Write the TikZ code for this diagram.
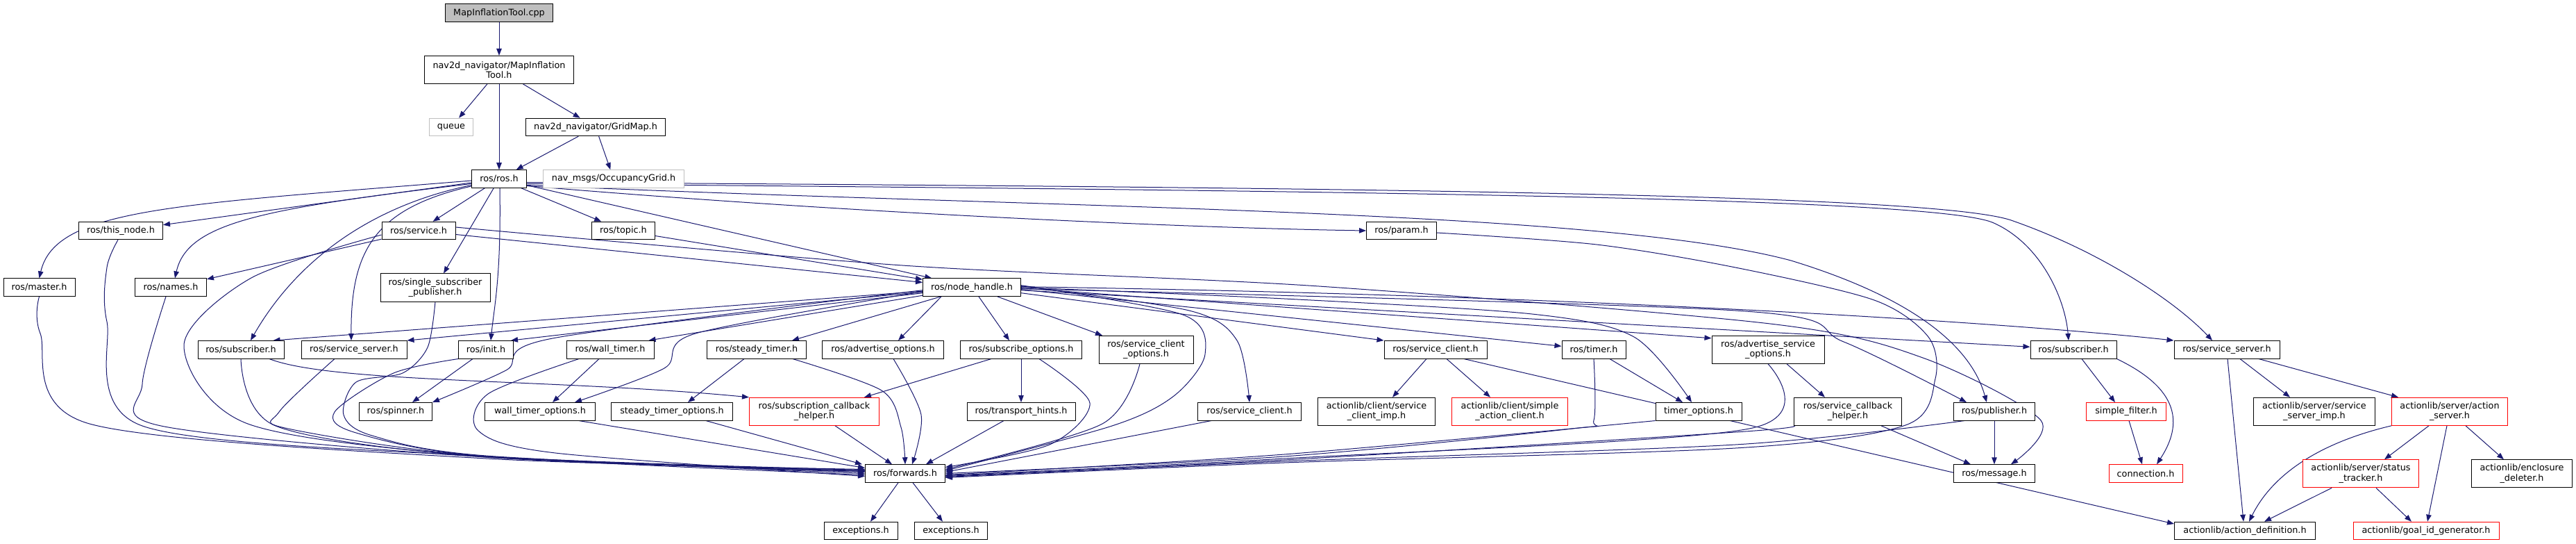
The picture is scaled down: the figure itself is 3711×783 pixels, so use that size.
\documentclass[tikz,border=0pt]{standalone}
\usepackage{fontspec}
\newfontfamily\dejavu{DejaVu Sans}
\usetikzlibrary{arrows.meta}
\newcommand\dxf{\dejavu\fontsize{12.8}{14.5}\selectfont}
\definecolor{navy}{HTML}{191970}
\definecolor{lgray}{HTML}{BFBFBF}
\pgfdeclarelayer{bg}
\pgfsetlayers{bg,main}
\tikzset{
  nbox/.style={draw, line width=1pt, fill=white, inner sep=0pt, minimum height=25.5pt, align=center, font=\dxf},
  box/.style={nbox, draw=black},
  redbox/.style={nbox, draw=red},
  greybox/.style={nbox, draw=lgray},
  rootbox/.style={nbox, draw=black, fill=lgray},
  tall/.style={minimum height=40pt},
  dep/.style={draw=navy, line width=1pt, -{Triangle[length=10pt,width=7.5pt]}},
}
\begin{document}
\begin{tikzpicture}[x=1pt,y=-1pt]
\useasboundingbox (0,0) rectangle (3711,783);
% ---------- nodes ----------
\node[rootbox, minimum width=155pt] (root) at (719,18.7) {MapInflationTool.cpp};
\node[box, tall, minimum width=215pt] (mit) at (719,100.5) {nav2d\_navigator/MapInflation\\Tool.h};
\node[greybox, minimum width=63pt] (queue) at (650,183) {queue};
\node[box, minimum width=201pt] (gridmap) at (858,183) {nav2d\_navigator/GridMap.h};
\node[box, minimum width=79pt] (rosh) at (719,257.5) {ros/ros.h};
\node[greybox, minimum width=203pt] (occ) at (884,257.5) {nav\_msgs/OccupancyGrid.h};
\node[box, minimum width=121pt] (thisnode) at (174,332) {ros/this\_node.h};
\node[box, minimum width=106pt] (service) at (603,332) {ros/service.h};
\node[box, minimum width=91pt] (topic) at (898,332) {ros/topic.h};
\node[box, minimum width=101pt] (param) at (2019,332) {ros/param.h};
\node[box, minimum width=103pt] (master) at (56.5,413.7) {ros/master.h};
\node[box, minimum width=103pt] (names) at (246,413.7) {ros/names.h};
\node[box, tall, minimum width=158pt] (ssp) at (627,414) {ros/single\_subscriber\\\_publisher.h};
\node[box, minimum width=141pt] (nh) at (1400,413.7) {ros/node\_handle.h};
\node[box, minimum width=124pt] (subL) at (347,503.3) {ros/subscriber.h};
\node[box, minimum width=152pt] (ssL) at (510,503.3) {ros/service\_server.h};
\node[box, minimum width=79pt] (init) at (700,503.3) {ros/init.h};
\node[box, minimum width=126pt] (walltimer) at (879,503.3) {ros/wall\_timer.h};
\node[box, minimum width=143pt] (steadytimer) at (1090,503.3) {ros/steady\_timer.h};
\node[box, minimum width=175pt] (advopt) at (1272,503.3) {ros/advertise\_options.h};
\node[box, minimum width=175pt] (subopt) at (1471,503.3) {ros/subscribe\_options.h};
\node[box, tall, minimum width=136pt] (scopt) at (1651,503.3) {ros/service\_client\\\_options.h};
\node[box, minimum width=148pt] (scU) at (2068,503.3) {ros/service\_client.h};
\node[box, minimum width=92pt] (timer) at (2296,503.3) {ros/timer.h};
\node[box, tall, minimum width=162pt] (asopt) at (2547,503.3) {ros/advertise\_service\\\_options.h};
\node[box, minimum width=124pt] (subR) at (2987,503.3) {ros/subscriber.h};
\node[box, minimum width=152pt] (ssR) at (3208,503.3) {ros/service\_server.h};
\node[box, minimum width=105pt] (spinner) at (570,592.3) {ros/spinner.h};
\node[box, minimum width=159pt] (wto) at (778,592.3) {wall\_timer\_options.h};
\node[box, minimum width=175pt] (sto) at (968,592.3) {steady\_timer\_options.h};
\node[redbox, tall, minimum width=187pt] (sch) at (1173,592.3) {ros/subscription\_callback\\\_helper.h};
\node[box, minimum width=156pt] (th) at (1471,592.3) {ros/transport\_hints.h};
\node[box, minimum width=149pt] (scL) at (1800,592.3) {ros/service\_client.h};
\node[box, tall, minimum width=169pt] (scimp) at (1983,592.3) {actionlib/client/service\\\_client\_imp.h};
\node[redbox, tall, minimum width=167pt] (sac) at (2175,592.3) {actionlib/client/simple\\\_action\_client.h};
\node[box, minimum width=124pt] (tops) at (2447,592.3) {timer\_options.h};
\node[box, tall, minimum width=155pt] (sch2) at (2662,592.3) {ros/service\_callback\\\_helper.h};
\node[box, minimum width=117pt] (pub) at (2873,592.3) {ros/publisher.h};
\node[redbox, minimum width=115pt] (sf) at (3063,592.3) {simple\_filter.h};
\node[box, tall, minimum width=175pt] (ssimp) at (3334,592.3) {actionlib/server/service\\\_server\_imp.h};
\node[redbox, tall, minimum width=167pt] (as) at (3529,592.3) {actionlib/server/action\\\_server.h};
\node[box, minimum width=115pt] (fwd) at (1304,681.5) {ros/forwards.h};
\node[box, minimum width=117pt] (msg) at (2873,681.5) {ros/message.h};
\node[redbox, minimum width=106pt] (conn) at (3091,681.5) {connection.h};
\node[redbox, tall, minimum width=167pt] (st) at (3401,681.8) {actionlib/server/status\\\_tracker.h};
\node[box, tall, minimum width=145pt] (ed) at (3633,681.8) {actionlib/enclosure\\\_deleter.h};
\node[box, minimum width=106pt] (exL) at (1240,764) {exceptions.h};
\node[box, minimum width=105pt] (exR) at (1370,764) {exceptions.h};
\node[box, minimum width=203pt] (ad) at (3234,764) {actionlib/action\_definition.h};
\node[redbox, minimum width=210pt] (gid) at (3495,764) {actionlib/goal\_id\_generator.h};
% ---------- edges ----------
\begin{pgfonlayer}{bg}
\draw[dep] (root) -- (mit);
\draw[dep] (mit) -- (queue);
\draw[dep] (mit) -- (rosh);
\draw[dep] (mit) -- (gridmap);
\draw[dep] (gridmap) -- (rosh);
\draw[dep] (gridmap) -- (occ);
% ros.h
\draw[dep] (rosh) -- (service);
\draw[dep] (rosh) -- (topic);
\draw[dep] (rosh) -- (ssp);
\draw[dep] (rosh) -- (nh);
\draw[dep] (rosh) -- (thisnode);
\draw[dep] ([yshift=-2.5pt]rosh.west) .. controls (250,295) and (80,300) .. (master.north);
\draw[dep] ([yshift=-7pt]rosh.west) .. controls (380,300) and (270,320) .. ([xshift=6pt]names.north);
\draw[dep] ([yshift=-9pt]rosh.west) .. controls (540,295) and (430,370) .. ([xshift=14pt]subL.north);
\draw[dep] ([yshift=-10.5pt]rosh.west) .. controls (540,300) and (505,360) .. ([xshift=-4pt]ssL.north);
\draw[dep] ([xshift=1pt]rosh.south) .. controls (722,400) and (712,440) .. ([xshift=7pt]init.north);
\draw[dep] ([yshift=-10pt]rosh.east) .. controls (1200,305) and (1700,328) .. (param.west);
\draw[dep] ([yshift=-9pt]rosh.east) .. controls (1500,300) and (2300,300) .. (2580,375) .. controls (2760,430) and (2840,500) .. ([xshift=-11pt]pub.north);
\draw[dep] ([yshift=-7pt]rosh.east) .. controls (2000,275) and (2780,285) .. (2870,320) .. controls (2940,350) and (2975,430) .. ([xshift=-7pt]subR.north);
\draw[dep] ([yshift=-5pt]rosh.east) .. controls (2000,270) and (2800,280) .. (2900,318) .. controls (3020,360) and (3130,430) .. ([xshift=-21pt]ssR.north);
% service / topic
\draw[dep] (service) -- (names);
\draw[dep] (service) -- (nh);
\draw[dep] (topic) -- (nh);
\draw[dep] plot[smooth] coordinates {([yshift=5pt]service.east) (1300,382) (1900,412) (2550,466) (2770,515) (2940,605) ([xshift=24pt]msg.north)};
% node_handle
\draw[dep] (nh) -- ([xshift=-16pt]subL.north east);
\draw[dep] (nh) -- (ssL.north east);
\draw[dep] (nh) -- ([xshift=-4pt]init.north east);
\draw[dep] (nh) -- ([xshift=-8pt]walltimer.north east);
\draw[dep] (nh) -- ([xshift=-21pt]steadytimer.north east);
\draw[dep] ([xshift=-44pt]nh.south) -- ([xshift=22pt]advopt.north);
\draw[dep] ([xshift=10pt]nh.south) -- ([xshift=-17pt]subopt.north);
\draw[dep] ([xshift=37pt]nh.south) -- ([xshift=-63pt]scopt.north);
\draw[dep] ([yshift=-8pt]nh.east) -- (scU.north west);
\draw[dep] ([yshift=-3pt]nh.east) -- ([yshift=5pt]timer.west);
\draw[dep] ([yshift=-1pt]nh.east) -- ([yshift=-4pt]asopt.north west);
\draw[dep] ([yshift=-4pt]nh.east) -- ([yshift=4pt]subR.west);
\draw[dep] ([yshift=1pt]nh.east) .. controls (2300,425) and (2900,465) .. (ssR.north west);
\draw[dep] plot[smooth] coordinates {([yshift=-4pt]nh.west) (796,487) (729,533) (spinner.north east)};
\draw[dep] plot[smooth] coordinates {([yshift=-6pt]nh.west) (1002,480) (957,530) ([xshift=50pt]wto.north)};
\draw[dep] plot[smooth] coordinates {([yshift=3pt]nh.east) (1704,453) (1736,510) (1691,570) (1602,613) ([yshift=4pt]fwd.east)};
\draw[dep] plot[smooth] coordinates {([yshift=2pt]nh.east) (1713,447) (1782,490) (scL.north)};
\draw[dep] plot[smooth] coordinates {([yshift=0pt]nh.east) (1850,430) (2207,452) (2354,485) ([xshift=-10pt]tops.north)};
\draw[dep] plot[smooth] coordinates {([yshift=-2pt]nh.east) (2500,447) (2656,492) ([xshift=-40pt]pub.north)};
% into forwards from left
\draw[dep] plot[smooth] coordinates {(master.south) (58,480) (129,610) (700,660) ([yshift=6pt]fwd.west)};
\draw[dep] plot[smooth] coordinates {([xshift=-4pt]thisnode.south) (154,385) (154,463) (205,613) (700,657) ([yshift=5pt]fwd.west)};
\draw[dep] plot[smooth] coordinates {([xshift=-7pt]names.south) (205,553) (232,613) (700,658) ([yshift=4pt]fwd.west)};
\draw[dep] plot[smooth] coordinates {([yshift=-6pt]service.west) (362,400) (265,497) (357,610) (700,657) ([yshift=4pt]fwd.west)};
\draw[dep] plot[smooth] coordinates {(subL.south) (397,613) (700,658) ([yshift=3pt]fwd.west)};
\draw[dep] plot[smooth] coordinates {([xshift=-28pt]ssL.south) (402,593) (415,617) (700,657) ([yshift=2pt]fwd.west)};
\draw[dep] plot[smooth] coordinates {(ssp.south) (616,500) (580,537) (513,550) (495,597) (536,627) (700,656) (fwd.west)};
\draw[dep] plot[smooth] coordinates {(init.south west) (567,537) (482,593) (513,623) (700,657) ([yshift=-2pt]fwd.west)};
\draw[dep] plot[smooth] coordinates {([xshift=-45pt]walltimer.south) (703,567) (689,620) (800,652) ([yshift=-4pt]fwd.west)};
\draw[dep] ([xshift=56pt]wto.south) -- ([yshift=8pt]fwd.west);
\draw[dep] ([xshift=49pt]sto.south) -- ([xshift=-4pt]fwd.north west);
\draw[dep] ([xshift=30pt]sch.south) -- ([xshift=-19pt]fwd.north);
\draw[dep] plot[smooth] coordinates {([xshift=52pt]steadytimer.south) (1270,562) (1298,615) (fwd.north)};
\draw[dep] plot[smooth] coordinates {([xshift=15pt]advopt.south) (1327,597) ([xshift=10pt]fwd.north)};
\draw[dep] ([xshift=-25pt]th.south) -- ([xshift=30pt]fwd.north);
% into forwards from right
\draw[dep] plot[smooth] coordinates {([xshift=26pt]subopt.south) (1570,580) (1512,640) ([yshift=9pt]fwd.east)};
\draw[dep] plot[smooth] coordinates {([xshift=-9pt]scopt.south) (1588,610) ([yshift=6pt]fwd.east)};
\draw[dep] ([xshift=-55pt]scL.south) -- ([yshift=2pt]fwd.east);
\draw[dep] plot[smooth] coordinates {(timer.south) (2296,605) (2265,617) (1850,657) (fwd.east)};
\draw[dep] plot[smooth] coordinates {(tops.south west) (1850,654) ([yshift=-2pt]fwd.east)};
\draw[dep] plot[smooth] coordinates {(asopt.south) (2520,617) (1850,660) ([yshift=-3pt]fwd.east)};
\draw[dep] plot[smooth] coordinates {(sch2.south west) (2500,622) (1850,662) ([yshift=-4pt]fwd.east)};
\draw[dep] plot[smooth] coordinates {([xshift=-43pt]pub.south) (2500,640) (1850,664) ([yshift=-5pt]fwd.east)};
\draw[dep] plot[smooth] coordinates {([yshift=-3pt]param.east) (2300,352) (2500,385) (2700,432) (2778,485) (2788,545) (2745,612) (2500,645) (1850,666) ([yshift=-6pt]fwd.east)};
% forwards
\draw[dep] ([xshift=-10pt]fwd.south) -- ([xshift=14pt]exL.north);
\draw[dep] ([xshift=11pt]fwd.south) -- ([xshift=-12pt]exR.north);
% other
\draw[dep] ([xshift=41pt]subL.south) .. controls (480,552) and (800,545) .. (sch.north west);
\draw[dep] ([xshift=-16pt]walltimer.south) -- ([xshift=18pt]wto.north);
\draw[dep] ([xshift=-18pt]steadytimer.south) -- ([xshift=23pt]sto.north);
\draw[dep] ([xshift=-43pt]subopt.south) -- ([xshift=-22pt]sch.north east);
\draw[dep] (subopt) -- (th);
\draw[dep] ([xshift=-19pt]init.south) -- ([xshift=24pt]spinner.north);
\draw[dep] ([xshift=-13pt]scU.south) -- ([xshift=23pt]scimp.north);
\draw[dep] ([xshift=16pt]scU.south) -- ([xshift=-28pt]sac.north);
\draw[dep] ([xshift=41pt]scU.south) -- ([yshift=10pt]ad.west);
\draw[dep] ([xshift=23pt]timer.south) -- ([xshift=-23pt]tops.north);
\draw[dep] ([xshift=27pt]asopt.south) -- ([xshift=-33pt]sch2.north);
\draw[dep] ([xshift=48pt]sch2.south) -- ([xshift=-34pt]msg.north);
\draw[dep] (pub) -- (msg);
\draw[dep] ([xshift=12pt]subR.south) -- ([xshift=-16pt]sf.north);
\draw[dep] (subR.south east) .. controls (3140,560) and (3145,610) .. ([xshift=16pt]conn.north);
\draw[dep] ([xshift=4pt]sf.south) -- ([xshift=-5pt]conn.north);
\draw[dep] ([xshift=1pt]ssR.south) -- ([xshift=-2pt]ad.north);
\draw[dep] ([xshift=19pt]ssR.south) -- ([xshift=-35pt]ssimp.north);
\draw[dep] ([xshift=46pt]ssR.south) -- ([xshift=-74pt]as.north);
\draw[dep] (as.south west) .. controls (3330,640) and (3270,690) .. ([xshift=6pt]ad.north);
\draw[dep] ([xshift=-30pt]as.south) -- ([xshift=34pt]st.north);
\draw[dep] ([xshift=-4pt]as.south) -- ([xshift=2pt]gid.north);
\draw[dep] ([xshift=23pt]as.south) -- ([xshift=-26pt]ed.north);
\draw[dep] ([xshift=-42pt]st.south) -- ([xshift=28pt]ad.north);
\draw[dep] ([xshift=22pt]st.south) -- ([xshift=-21pt]gid.north);
\end{pgfonlayer}
\end{tikzpicture}
\end{document}
